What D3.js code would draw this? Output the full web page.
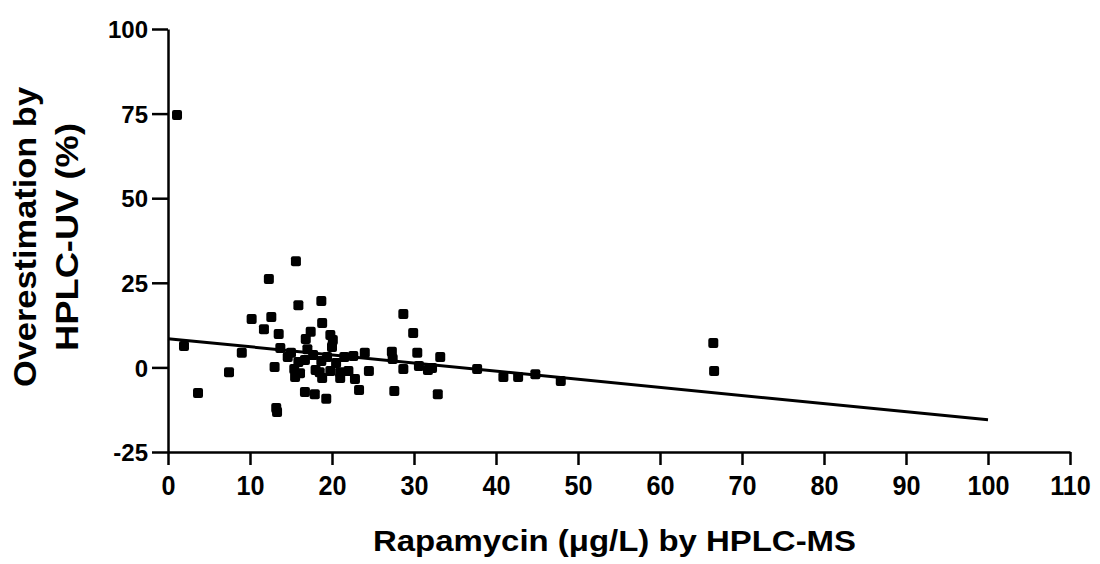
<!DOCTYPE html>
<html>
<head>
<meta charset="utf-8">
<script src="https://cdn.jsdelivr.net/npm/d3@7"></script>
<style>
  html, body { margin: 0; padding: 0; background: #fff; }
  svg { display: block; }
  text { font-family: "Liberation Sans", Arial, sans-serif; font-weight: bold; fill: #000; }
</style>
</head>
<body>
<svg id="chart" width="1100" height="564"></svg>
<script>
// ---- data ----
const xValues = [1.1, 1.95, 3.66, 7.44, 9.0, 10.2, 11.7, 12.3, 12.6, 13.0, 13.2, 13.3, 13.5, 13.7, 14.6, 15.0,
  15.6, 15.9, 15.4, 15.5, 15.9, 16.1, 16.7, 16.8, 16.7, 17.0, 17.4, 17.7, 17.9, 18.0, 18.7, 18.8, 18.5, 18.7,
  18.8, 19.3, 19.8, 20.0, 19.4, 19.8, 20.1, 20.5, 21.0, 21.0, 21.5, 22.0, 22.6, 22.8, 23.3, 24.0, 24.5,
  27.3, 27.4, 27.6, 28.7, 28.7, 29.9, 30.4, 30.6, 31.7, 32.2, 32.9, 33.2, 37.7, 40.9, 42.7, 44.8, 47.9, 66.5, 66.6];
const yValues = [74.6, 6.3, -7.6, -1.4, 4.3, 14.3, 11.3, 26.1, 14.9, 0.1, -12.0, -13.2, 9.9, 5.7, 3.1, 4.3,
  31.4, 18.4, -0.5, -2.8, 1.6, -1.7, 2.2, 8.4, -7.3, 5.4, 10.5, 3.7, -7.9, -0.8, 19.6, 13.1, -1.4, 1.9,
  -3.1, -9.3, 9.6, 6.0, 3.1, -1.1, 8.1, 1.3, -1.4, -3.1, 3.1, -1.1, 3.4, -3.4, -6.7, 4.3, -1.1,
  4.6, 2.5, -7.0, 15.8, -0.5, 10.2, 4.3, 0.4, -0.8, -0.2, -7.9, 3.1, -0.5, -2.8, -2.8, -2.0, -4.0, 7.2, -1.1];
const fitX = [0, 100];
const fitY = [8.5, -15.5];
const xTicks = [0, 10, 20, 30, 40, 50, 60, 70, 80, 90, 100, 110];
const yTicks = [-25, 0, 25, 50, 75, 100];
const xTitle = "Rapamycin (\u03bcg/L) by HPLC-MS";
const yTitleLines = ["Overestimation by", "HPLC-UV (%)"];

// ---- drawing ----
const svg = d3.select("#chart");
const x = d3.scaleLinear().domain([0, 110]).range([168, 1070]);
const y = d3.scaleLinear().domain([-25, 100]).range([452, 29]);
const fmt = d => String(d);

// y axis
const yAxis = svg.append("g")
  .attr("transform", `translate(${x(0)},0)`)
  .call(d3.axisLeft(y).tickValues(yTicks).tickFormat(fmt).tickSize(16).tickSizeOuter(0).tickPadding(4));
yAxis.select(".domain").attr("stroke-width", 2.5);
yAxis.selectAll(".tick line").attr("stroke-width", 2.5);
yAxis.selectAll(".tick text")
  .style("font-size", "24px").style("font-family", "Liberation Sans, Arial, sans-serif").style("font-weight", "bold")
  .attr("dy", "0.36em");

// x axis
const xAxis = svg.append("g")
  .attr("transform", `translate(0,${y(-25)})`)
  .call(d3.axisBottom(x).tickValues(xTicks).tickFormat(fmt).tickSize(13).tickSizeOuter(0).tickPadding(10));
xAxis.select(".domain").attr("stroke-width", 2.5);
xAxis.selectAll(".tick line").attr("stroke-width", 2.5);
xAxis.selectAll(".tick text")
  .style("font-size", "28px").style("font-family", "Liberation Sans, Arial, sans-serif").style("font-weight", "bold")
  .attr("transform", "scale(0.9,1)");

// regression line
svg.append("path")
  .datum(fitX.map((d, i) => [d, fitY[i]]))
  .attr("fill", "none")
  .attr("stroke", "#000")
  .attr("stroke-width", 3)
  .attr("d", d3.line().x(d => x(d[0])).y(d => y(d[1])));

// points
const pts = xValues.map((d, i) => ({ x: d, y: yValues[i] }));
const s = 10;
svg.append("g").selectAll("rect").data(pts).join("rect")
  .attr("x", d => x(d.x) - s / 2)
  .attr("y", d => y(d.y) - s / 2)
  .attr("width", s).attr("height", s)
  .attr("rx", 2)
  .attr("fill", "#000");

// titles
svg.append("text")
  .attr("x", 373).attr("y", 551)
  .attr("textLength", 483)
  .attr("lengthAdjust", "spacingAndGlyphs")
  .style("font-size", "29px")
  .text(xTitle);

const yt = svg.append("text")
  .attr("transform", "translate(0,237) rotate(-90)")
  .style("font-size", "32px");
yt.append("tspan").attr("x", -150).attr("y", 36)
  .attr("textLength", 300).attr("lengthAdjust", "spacingAndGlyphs").text(yTitleLines[0]);
yt.append("tspan").attr("x", -114).attr("y", 78)
  .attr("textLength", 228).attr("lengthAdjust", "spacingAndGlyphs").text(yTitleLines[1]);
</script>
</body>
</html>
